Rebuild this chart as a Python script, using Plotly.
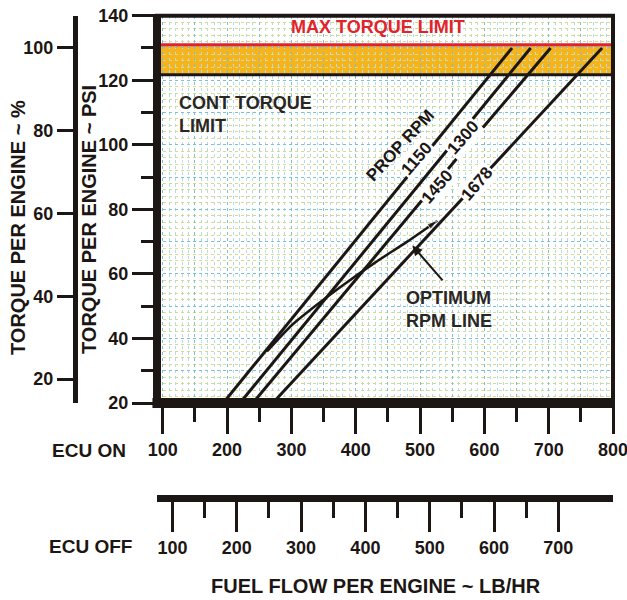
import plotly.graph_objects as go

# ---------------- data ----------------
torque_psi_pts = [20, 60, 100, 130]          # torque per engine (PSI) sample points
rpm_labels = ["1150", "1300", "1450", "1678"]
fuel_1150 = [194, 357, 521, 643]             # fuel flow (ECU ON, lb/hr)
fuel_1300 = [220, 385, 549, 672]
fuel_1450 = [240, 407, 575, 703]
fuel_1678 = [271, 457, 643, 783]
prop_fuel = [fuel_1150, fuel_1300, fuel_1450, fuel_1678]

opt_fuel = [262, 300, 340, 380, 430, 480, 527]
opt_torque = [36, 44, 50.5, 56.5, 63.5, 70, 76.5]

max_torque_psi = 131
cont_torque_psi = 121.7

ecu_on_ticks = [100, 200, 300, 400, 500, 600, 700, 800]
ecu_on_minor = [150, 250, 350, 450, 550, 650, 750]
ecu_off_ticks = [100, 200, 300, 400, 500, 600, 700]
ecu_off_minor = [150, 250, 350, 450, 550, 650]
ecu_off_offset = 15
psi_ticks = [20, 40, 60, 80, 100, 120, 140]
psi_minor = [30, 50, 70, 90, 110, 130]
pct_ticks = [20, 40, 60, 80, 100]

x_range = [91, 800]
y_range = [20, 140]
pct_range = [14.2, 107.8]

# ---------------- layout helpers ----------------
W, H = 627, 600
INK = "#1c1614"
FONT = "Liberation Sans"


def fx(p):
    return p / W


def fy(p):
    return 1 - p / H


def bold(size, color=INK):
    return dict(family=FONT, size=size, color=color, weight="bold")


xdom = [fx(157), fx(613)]
ydom = [fy(403), fy(15.7)]

fig = go.Figure()

for fuel in prop_fuel:
    fig.add_trace(go.Scatter(x=fuel, y=torque_psi_pts, mode="lines",
                             line=dict(color=INK, width=3), hoverinfo="skip",
                             showlegend=False))

fig.add_trace(go.Scatter(
    x=opt_fuel, y=opt_torque, mode="lines+markers",
    line=dict(color=INK, width=2.5, shape="spline", smoothing=0.6),
    marker=dict(symbol="arrow", angleref="previous", color=INK,
                size=[0] * (len(opt_fuel) - 1) + [11]),
    hoverinfo="skip", showlegend=False))

# invisible traces to activate the extra axes
fig.add_trace(go.Scatter(x=[ecu_off_ticks[0]], y=[y_range[0]], xaxis="x2", yaxis="y",
                         mode="markers", marker=dict(opacity=0), showlegend=False,
                         hoverinfo="skip"))
fig.add_trace(go.Scatter(x=[x_range[0]], y=[pct_ticks[0]], xaxis="x", yaxis="y2",
                         mode="markers", marker=dict(opacity=0), showlegend=False,
                         hoverinfo="skip"))
fig.add_trace(go.Scatter(x=[x_range[0]], y=[y_range[0]], xaxis="x3", yaxis="y3",
                         mode="markers", marker=dict(opacity=0), showlegend=False,
                         hoverinfo="skip"))

tickfont = bold(18)

fig.update_layout(
    template="none",
    width=W, height=H,
    margin=dict(l=0, r=0, t=0, b=0, autoexpand=False),
    paper_bgcolor="white", plot_bgcolor="white",
    showlegend=False,
    xaxis=dict(domain=xdom, range=x_range, showgrid=False, zeroline=False,
               automargin=False, ticklabeloverflow="allow",
               showline=False, ticks="outside", tickmode="array",
               tickvals=ecu_on_ticks, ticklen=30, tickwidth=3, tickcolor=INK,
               tickfont=tickfont, fixedrange=True,
               minor=dict(tickmode="array", tickvals=ecu_on_minor, ticklen=18,
                          tickwidth=2.5, tickcolor=INK, ticks="outside",
                          showgrid=False)),
    yaxis=dict(domain=ydom, range=y_range, showgrid=False, zeroline=False,
               automargin=False, ticklabeloverflow="allow",
               showline=False, ticks="outside", tickmode="array",
               tickvals=psi_ticks, ticklen=24, tickwidth=2.5, tickcolor=INK,
               tickfont=tickfont, fixedrange=True,
               minor=dict(tickmode="array", tickvals=psi_minor, ticklen=15,
                          tickwidth=2.5, tickcolor=INK, ticks="outside",
                          showgrid=False)),
    yaxis2=dict(overlaying="y", anchor="free", position=fx(75), side="left",
                automargin=False, ticklabeloverflow="allow",
                range=pct_range, showgrid=False, zeroline=False, showline=True,
                linewidth=5, linecolor=INK, ticks="outside", tickmode="array",
                tickvals=pct_ticks, ticklen=16, tickwidth=2.5, tickcolor=INK,
                tickfont=tickfont, fixedrange=True),
    xaxis2=dict(overlaying="x", anchor="free", position=fy(498), side="bottom",
                automargin=False, ticklabeloverflow="allow",
                range=[x_range[0] - ecu_off_offset, x_range[1] - ecu_off_offset],
                showgrid=False, zeroline=False, showline=True, linewidth=7,
                linecolor=INK, ticks="outside", tickmode="array",
                tickvals=ecu_off_ticks, ticklen=30, tickwidth=3, tickcolor=INK,
                tickfont=tickfont, fixedrange=True,
                minor=dict(tickmode="array", tickvals=ecu_off_minor, ticklen=16,
                           tickwidth=3, tickcolor=INK, ticks="outside",
                           showgrid=False)),
    xaxis3=dict(overlaying="x", anchor="y3", range=x_range, showticklabels=False,
                automargin=False,
                ticks="", zeroline=False, showline=False, tick0=0, dtick=50,
                showgrid=True, gridcolor="#7fbfd6", griddash="dot", gridwidth=1,
                minor=dict(dtick=10, tick0=0, showgrid=True, gridcolor="#b3dbe8",
                           griddash="dot", gridwidth=1),
                fixedrange=True),
    yaxis3=dict(overlaying="y", anchor="x3", range=y_range, showticklabels=False,
                automargin=False,
                ticks="", zeroline=False, showline=False, tick0=0, dtick=10,
                showgrid=True, gridcolor="#7fbfd6", griddash="dot", gridwidth=1,
                minor=dict(dtick=2, tick0=0, showgrid=True, gridcolor="#d6da8c",
                           griddash="dot", gridwidth=1),
                fixedrange=True),
)

# torque limit band
fig.add_shape(type="rect", xref="x domain", yref="y", x0=0, x1=1,
              y0=cont_torque_psi, y1=max_torque_psi, fillcolor="#f5b41c",
              line=dict(width=0), layer="below")
fig.add_shape(type="line", xref="x domain", yref="y", x0=0, x1=1,
              y0=max_torque_psi, y1=max_torque_psi,
              line=dict(color="#e3222b", width=3), layer="above")
fig.add_shape(type="line", xref="x domain", yref="y", x0=0, x1=1,
              y0=cont_torque_psi, y1=cont_torque_psi,
              line=dict(color=INK, width=3), layer="above")

# frame
fig.add_shape(type="rect", xref="x domain", yref="y domain", x0=0, x1=1, y0=0, y1=1,
              line=dict(color=INK, width=4), layer="above")
fig.add_shape(type="line", xref="x domain", yref="y domain", x0=0, x1=0, y0=-0.012, y1=1,
              line=dict(color=INK, width=8), layer="above")
fig.add_shape(type="line", xref="x domain", yref="y domain", x0=-0.01, x1=1, y0=0, y1=0,
              line=dict(color=INK, width=10), layer="above")

ann = []
# chart texts
ann.append(dict(x=435, y=136.4, xref="x", yref="y", text="MAX TORQUE LIMIT",
                showarrow=False, font=bold(18, "#e3222b")))
ann.append(dict(x=122, y=109.5, xref="x", yref="y", text="CONT TORQUE<br>LIMIT",
                showarrow=False, xanchor="left", align="left",
                font=bold(18, "#2a2624")))
ann.append(dict(x=475, y=49, xref="x", yref="y", text="OPTIMUM<br>RPM LINE",
                showarrow=False, xanchor="left", align="left",
                font=bold(18, "#2a2624")))
ann.append(dict(x=488, y=68.8, xref="x", yref="y", ax=537, ay=57.5,
                axref="x", ayref="y", text="", showarrow=True, arrowhead=2,
                arrowsize=1, arrowwidth=2, arrowcolor=INK))

# rotated prop rpm labels
label_pos = [(495, 95.8), (567, 102.3), (527, 87.1), (589, 88.0)]
for lbl, (lx, ly) in zip(rpm_labels, label_pos):
    ann.append(dict(x=lx, y=ly, xref="x", yref="y", text=lbl, showarrow=False,
                    textangle=-49, bgcolor="white", borderpad=1, font=bold(17)))
ann.append(dict(x=469, y=99.8, xref="x", yref="y", text="PROP RPM", showarrow=False,
                textangle=-47, font=bold(17)))

# axis titles and side labels
side = dict(xref="paper", yref="paper", showarrow=False, xanchor="center",
            yanchor="middle")
ann.append(dict(x=fx(18), y=fy(228), text="TORQUE PER ENGINE ~ %", textangle=-90,
                font=bold(20), **side))
ann.append(dict(x=fx(89), y=fy(220), text="TORQUE PER ENGINE ~ PSI", textangle=-90,
                font=bold(20), **side))
ann.append(dict(x=fx(89), y=fy(450), text="ECU ON", font=bold(19), **side))
ann.append(dict(x=fx(90), y=fy(546), text="ECU OFF", font=bold(19), **side))
ann.append(dict(x=fx(376), y=fy(586), text="FUEL FLOW PER ENGINE ~ LB/HR",
                font=bold(20), **side))

fig.update_layout(annotations=ann)

fig.write_html(
    "out.html",
    config={"displayModeBar": False},
    post_script=("document.body.style.margin='0';"
                 "document.body.style.overflow='hidden';"
                 "document.documentElement.style.overflow='hidden';"),
)
